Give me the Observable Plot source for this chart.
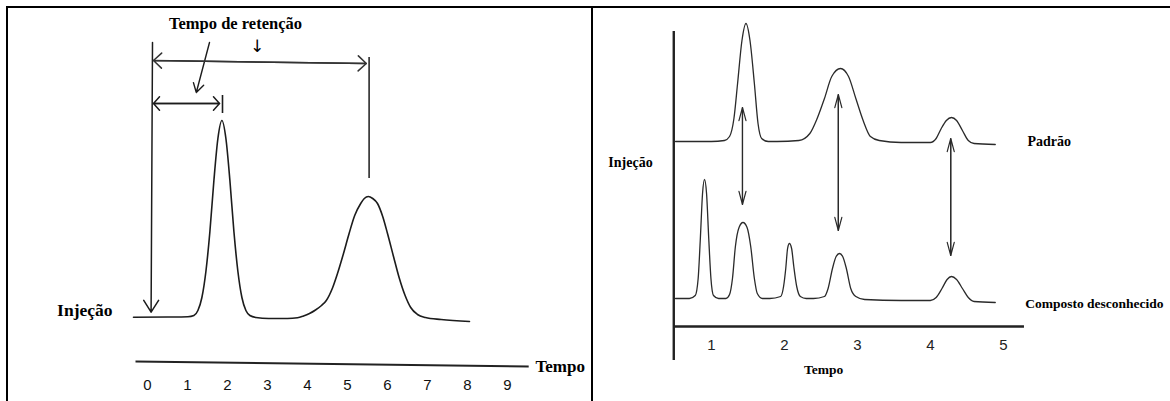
<!DOCTYPE html>
<html>
<head>
<meta charset="utf-8">
<script src="https://cdn.jsdelivr.net/npm/d3@7"></script>
<script src="https://cdn.jsdelivr.net/npm/@observablehq/plot@0.6"></script>
<style>
  html, body { margin: 0; padding: 0; background: #fff; }
  #wrap { position: relative; width: 1170px; height: 401px; overflow: hidden; background: #fff; }
  #left, #right { position: absolute; top: 0; }
  #left { left: 0; }
  #right { left: 590px; }
  .frameL { position: absolute; left: 6px; top: 6px; width: 587px; height: 420px; border: 2px solid #000; border-bottom: none; box-sizing: border-box; pointer-events: none; }
  .frameR { position: absolute; left: 591px; top: 6px; width: 620px; height: 420px; border-left: 2px solid #000; border-top: 2px solid #000; box-sizing: border-box; pointer-events: none; }
</style>
</head>
<body>
<div id="wrap">
  <div id="left"></div>
  <div id="right"></div>
  <div class="frameL"></div>
  <div class="frameR"></div>
</div>
<script>
// ---------- Left chromatogram (retention time) ----------
const leftTicks = [0, 1, 2, 3, 4, 5, 6, 7, 8, 9];
const leftTime = [-0.35, 0.5, 1.01, 1.16, 1.26, 1.36, 1.46, 1.56, 1.66, 1.76, 1.86, 1.96, 2.06, 2.16, 2.26, 2.36, 2.46, 2.56, 2.71,
                  3.03, 3.5, 3.75, 3.9, 4.05, 4.2, 4.35, 4.47, 4.62, 4.75, 4.9, 5.04, 5.18, 5.33, 5.42, 5.52, 5.63, 5.75, 5.88,
                  6.0, 6.15, 6.29, 6.44, 6.58, 6.75, 6.95, 7.34, 8.05];
const leftSignal = [0.3, 0.5, 0.8, 2, 7, 20, 46, 86, 137, 179, 197, 179, 137, 86, 46, 20, 7, 2, 0,
                    -1, -1, -0.3, 1.5, 4, 7.5, 12, 17, 29, 44, 64, 84, 102, 114, 119, 121, 119, 114, 101,
                    84, 61, 40, 22, 10, 3, 0, -2, -4];

// ---------- Right chromatograms (standard vs unknown) ----------
const rightTicks = [1, 2, 3, 4, 5];
const padraoTime = [0.51, 1.0, 1.18, 1.25, 1.31, 1.36, 1.42, 1.475, 1.53, 1.59, 1.64, 1.69, 1.78,
                    1.9, 2.2, 2.35, 2.45, 2.55, 2.65, 2.77, 2.88, 2.98, 3.08, 3.18, 3.3, 3.6,
                    4.0, 4.08, 4.15, 4.22, 4.29, 4.36, 4.44, 4.52, 4.6, 4.89];
const padraoSignal = [157, 157, 158, 162, 180, 215, 258, 275, 258, 215, 175, 160, 157,
                      157, 158, 165, 180, 200, 222, 230, 222, 200, 178, 162, 158, 156,
                      156, 160, 170, 178, 181, 178, 168, 158, 155, 154];
const compostoTime = [0.51, 0.7, 0.78, 0.82, 0.85, 0.88, 0.907, 0.935, 0.965, 0.995, 1.03, 1.1,
                      1.2, 1.25, 1.29, 1.33, 1.38, 1.434, 1.49, 1.54, 1.59, 1.63, 1.7,
                      1.8, 1.95, 1.99, 2.02, 2.045, 2.07, 2.1, 2.13, 2.17, 2.22, 2.3,
                      2.4, 2.55, 2.6, 2.66, 2.71, 2.756, 2.8, 2.85, 2.91, 2.98, 3.1, 3.6,
                      4.0, 4.08, 4.16, 4.23, 4.29, 4.36, 4.44, 4.52, 4.6, 4.89];
const compostoSignal = [0, 0, 3, 20, 60, 105, 119, 105, 60, 20, 3, 0,
                        0, 4, 20, 52, 71, 76, 71, 52, 20, 5, 0,
                        0, 2, 12, 30, 50, 55, 50, 32, 12, 2, 0,
                        0, 2, 10, 30, 42, 45, 42, 30, 10, 2, -1, -2,
                        -2, 1, 10, 19, 22, 19, 10, 1, -3, -4];

// retention-time markers (time of the matching peaks)
const matchTimes = [1.427, 2.74, 4.28];
const matchTop = [191, 204, 160];
const matchBottom = [94, 68, 43];

const leftData = leftTime.map((t, i) => ({t, v: leftSignal[i]}));
const padraoData = padraoTime.map((t, i) => ({t, v: padraoSignal[i]}));
const compostoData = compostoTime.map((t, i) => ({t, v: compostoSignal[i]}));
const matchData = matchTimes.map((t, i) => ({t, top: matchTop[i], bottom: matchBottom[i]}));

const serif = "'Liberation Serif', 'Times New Roman', serif";
const sans = "'Liberation Sans', Arial, sans-serif";
const ink = "#1c1c1c";

// double arrows in the left panel (data units)
const leftDouble = [{x1: 0.15, y1: 257, x2: 5.47, y2: 254}];
const leftDoubleShort = [{x1: 0.15, y1: 214, x2: 1.8, y2: 214}];

const left = Plot.plot({
  width: 590, height: 401, margin: 0,
  x: {domain: [0, 9], range: [147, 507], axis: null},
  y: {domain: [0, 197], range: [317, 120], axis: null},
  style: {background: "transparent", overflow: "visible"},
  marks: [
    Plot.line(leftData, {x: "t", y: "v", curve: "monotone-x", stroke: ink, strokeWidth: 1.6}),
    // time axis line
    Plot.link([0], {x1: () => -0.3, y1: () => -44, x2: () => 9.53, y2: () => -49, stroke: "#222", strokeWidth: 2}),
    Plot.text(leftTicks, {x: d => d, y: () => -68, text: d => String(d), fontFamily: sans, fontSize: 15, fill: "#111"}),
    Plot.text(["Tempo"], {x: () => 9.7, y: () => -49.5, text: d => d, textAnchor: "start", fontFamily: serif, fontWeight: "bold", fontSize: 17, fill: "#000"}),
    Plot.text(["Injeção"], {x: () => -0.875, y: () => 7, text: d => d, textAnchor: "end", fontFamily: serif, fontWeight: "bold", fontSize: 17.5, fill: "#000"}),
    Plot.text(["Tempo de retenção"], {x: () => 2.2, y: () => 294, text: d => d, fontFamily: serif, fontWeight: "bold", fontSize: 16.5, fill: "#000"}),
    // injection arrow
    Plot.arrow([0], {x1: () => 0.125, y1: () => 275, x2: () => 0.09, y2: () => 5.3, stroke: ink, strokeWidth: 1.5, headLength: 14, headAngle: 64}),
    // pointer arrows from the title
    Plot.arrow([0], {x1: () => 1.55, y1: () => 275, x2: () => 1.22, y2: () => 225, stroke: ink, strokeWidth: 1.4, headLength: 11, headAngle: 62}),
    Plot.text(["↓"], {x: () => 2.74, y: () => 271, text: d => d, fontFamily: "'DejaVu Sans', sans-serif", fontSize: 17, fill: "#000"}),
    // long double arrow
    Plot.arrow(leftDouble, {x1: "x1", y1: "y1", x2: "x2", y2: "y2", stroke: "#333", strokeWidth: 1.5, headLength: 11, headAngle: 86}),
    Plot.arrow(leftDouble, {x1: "x2", y1: "y2", x2: "x1", y2: "y1", stroke: "#333", strokeWidth: 1.5, headLength: 11, headAngle: 86}),
    // short double arrow
    Plot.arrow(leftDoubleShort, {x1: "x1", y1: "y1", x2: "x2", y2: "y2", stroke: ink, strokeWidth: 1.5, headLength: 9, headAngle: 96}),
    Plot.arrow(leftDoubleShort, {x1: "x2", y1: "y2", x2: "x1", y2: "y1", stroke: ink, strokeWidth: 1.5, headLength: 9, headAngle: 96}),
    // retention-time end bars
    Plot.ruleX([5.54], {y1: () => 139, y2: () => 260, stroke: ink, strokeWidth: 1.5}),
    Plot.ruleX([1.875], {y1: () => 204, y2: () => 222, stroke: ink, strokeWidth: 1.6})
  ]
});
document.getElementById("left").appendChild(left);

const right = Plot.plot({
  width: 580, height: 401, margin: 0,
  x: {domain: [0, 5], range: [47.8, 412.8], axis: null},
  y: {domain: [0, 275], range: [298, 23], axis: null},
  style: {background: "transparent", overflow: "visible"},
  marks: [
    // axes
    Plot.ruleX([0.486], {y1: () => 267, y2: () => -62, stroke: "#222", strokeWidth: 2.4}),
    Plot.ruleY([-28], {x1: () => 0.486, x2: () => 5.29, stroke: "#222", strokeWidth: 2.6}),
    Plot.text(rightTicks, {x: d => d, y: () => -47, text: d => String(d), fontFamily: sans, fontSize: 15, fill: "#222"}),
    Plot.text(["Tempo"], {x: () => 2.54, y: () => -71, text: d => d, fontFamily: serif, fontWeight: "bold", fontSize: 13.5, fill: "#000"}),
    Plot.text(["Injeção"], {x: () => -0.107, y: () => 136, text: d => d, fontFamily: serif, fontWeight: "bold", fontSize: 14, fill: "#000"}),
    Plot.text(["Padrão"], {x: () => 5.33, y: () => 157, text: d => d, textAnchor: "start", fontFamily: serif, fontWeight: "bold", fontSize: 14, fill: "#000"}),
    Plot.text(["Composto desconhecido"], {x: () => 5.30, y: () => -5, text: d => d, textAnchor: "start", fontFamily: serif, fontWeight: "bold", fontSize: 13.5, fill: "#000"}),
    // chromatograms
    Plot.line(padraoData, {x: "t", y: "v", curve: "monotone-x", stroke: "#2a2a2a", strokeWidth: 1.3}),
    Plot.line(compostoData, {x: "t", y: "v", curve: "monotone-x", stroke: "#2a2a2a", strokeWidth: 1.3}),
    // matching retention-time arrows
    Plot.arrow(matchData, {x: "t", y1: "top", y2: "bottom", stroke: "#2a2a2a", strokeWidth: 1.2, headLength: 17, headAngle: 30}),
    Plot.arrow(matchData, {x: "t", y1: "bottom", y2: "top", stroke: "#2a2a2a", strokeWidth: 1.2, headLength: 17, headAngle: 30})
  ]
});
document.getElementById("right").appendChild(right);
</script>
</body>
</html>
